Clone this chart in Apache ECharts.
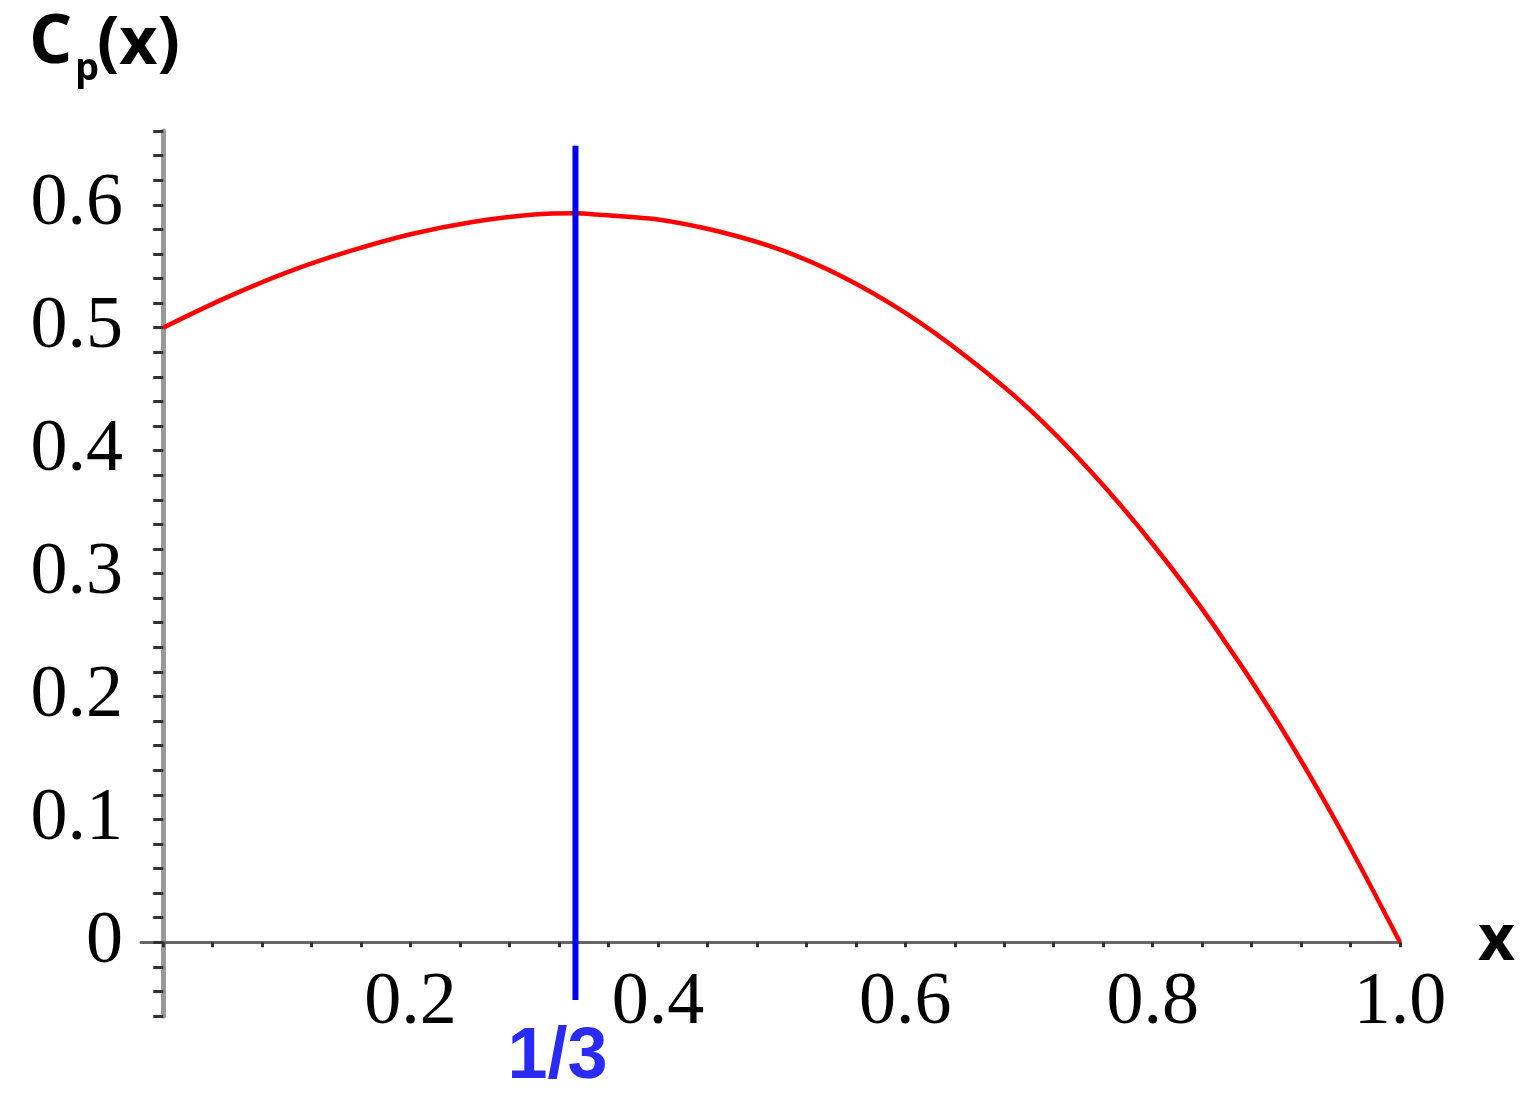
<!DOCTYPE html>
<html>
<head>
<meta charset="utf-8">
<script src="https://cdn.jsdelivr.net/npm/echarts@6/dist/echarts.min.js"></script>
<style>html,body{margin:0;padding:0;background:#fff}#c{width:1528px;height:1110px}</style>
</head>
<body>
<div id="c"></div>
<script>
// Data
const xValues  = [0, 0.05, 0.1, 0.15, 0.2, 0.25, 0.3, 0.3333, 0.35, 0.4, 0.45, 0.5, 0.55, 0.6, 0.65, 0.7, 0.75, 0.8, 0.85, 0.9, 0.95, 1.0];
const cpValues = [0.5, 0.524, 0.545, 0.562, 0.576, 0.586, 0.592, 0.593, 0.592, 0.588, 0.578, 0.563, 0.541, 0.512, 0.476, 0.434, 0.383, 0.324, 0.257, 0.181, 0.095, 0];
const markX = 0.3333;
const markYRange = [0.648, -0.047];
const markLabel = '1/3';
const xTickLabels = [0.2, 0.4, 0.6, 0.8, 1.0];
const yTickLabels = [0, 0.1, 0.2, 0.3, 0.4, 0.5, 0.6];
const xMinorTicks = [0,0.04,0.08,0.12,0.16,0.2,0.24,0.28,0.32,0.36,0.4,0.44,0.48,0.52,0.56,0.6,0.64,0.68,0.72,0.76,0.8,0.84,0.88,0.92,0.96,1.0];
const yMinorTicks = [-0.06,-0.04,-0.02,0,0.02,0.04,0.06,0.08,0.1,0.12,0.14,0.16,0.18,0.2,0.22,0.24,0.26,0.28,0.3,0.32,0.34,0.36,0.38,0.4,0.42,0.44,0.46,0.48,0.5,0.52,0.54,0.56,0.58,0.6,0.62,0.64,0.66];

const chart = echarts.init(document.getElementById('c'));
const serif = '"Liberation Serif", "Times New Roman", serif';
chart.setOption({
  animation: false,
  backgroundColor: '#fff',
  grid: { left: 141, right: 128, top: 131, bottom: 94, containLabel: false },
  graphic: [
    { type: 'text', left: 29, top: 10, style: { text: 'C', font: 'bold 68px "Open Sans"', fill: '#000' } },
    { type: 'text', left: 75, top: 50, style: { text: 'p', font: 'bold 38px "Open Sans"', fill: '#000' } },
    { type: 'text', left: 97, top: 12, style: { text: '(x)', font: 'bold 66px "Open Sans"', fill: '#000' } }
  ],
  xAxis: {
    type: 'value', min: -0.018, max: 1.0,
    name: 'x', nameLocation: 'end', nameGap: 78,
    nameTextStyle: { fontFamily: 'Open Sans', fontWeight: 'bold', fontSize: 64, color: '#000', verticalAlign: 'middle', align: 'left', padding: [0,0,8,0] },
    axisLine: { onZero: true, lineStyle: { color: '#666', width: 3 } },
    axisTick: { show: true, customValues: xMinorTicks, length: 5, lineStyle: { color: '#333', width: 3 } },
    axisLabel: { customValues: xTickLabels, formatter: v => v.toFixed(1), fontFamily: serif, fontSize: 74, color: '#000', margin: -49 },
    splitLine: { show: false }
  },
  yAxis: {
    type: 'value', min: -0.06, max: 0.66,
    axisLine: { onZero: true, lineStyle: { color: '#999', width: 5 } },
    axisTick: { show: true, customValues: yMinorTicks, length: 10, lineStyle: { color: '#333', width: 3 } },
    axisLabel: { customValues: yTickLabels, formatter: v => v === 0 ? '0' : v.toFixed(1), fontFamily: serif, fontSize: 74, color: '#000', margin: 18 },
    splitLine: { show: false }
  },
  series: [
    {
      type: 'line', data: xValues.map((x, i) => [x, cpValues[i]]),
      showSymbol: false, smooth: 0.3,
      lineStyle: { color: '#ff0000', width: 4.5 }
    },
    {
      type: 'line', data: [
        [markX, markYRange[0]],
        { value: [markX, markYRange[1]], label: { show: true, formatter: markLabel, position: 'bottom', distance: 22, offset: [-18, 0], fontFamily: '"Liberation Sans", Arial, sans-serif', fontWeight: 'bold', fontSize: 72, color: '#2a2af5' } }
      ],
      symbol: 'circle', showSymbol: true, symbolSize: 1, itemStyle: { color: 'rgba(0,0,0,0)' },
      lineStyle: { color: '#0000ee', width: 6 }
    }
  ]
});
</script>
</body>
</html>
